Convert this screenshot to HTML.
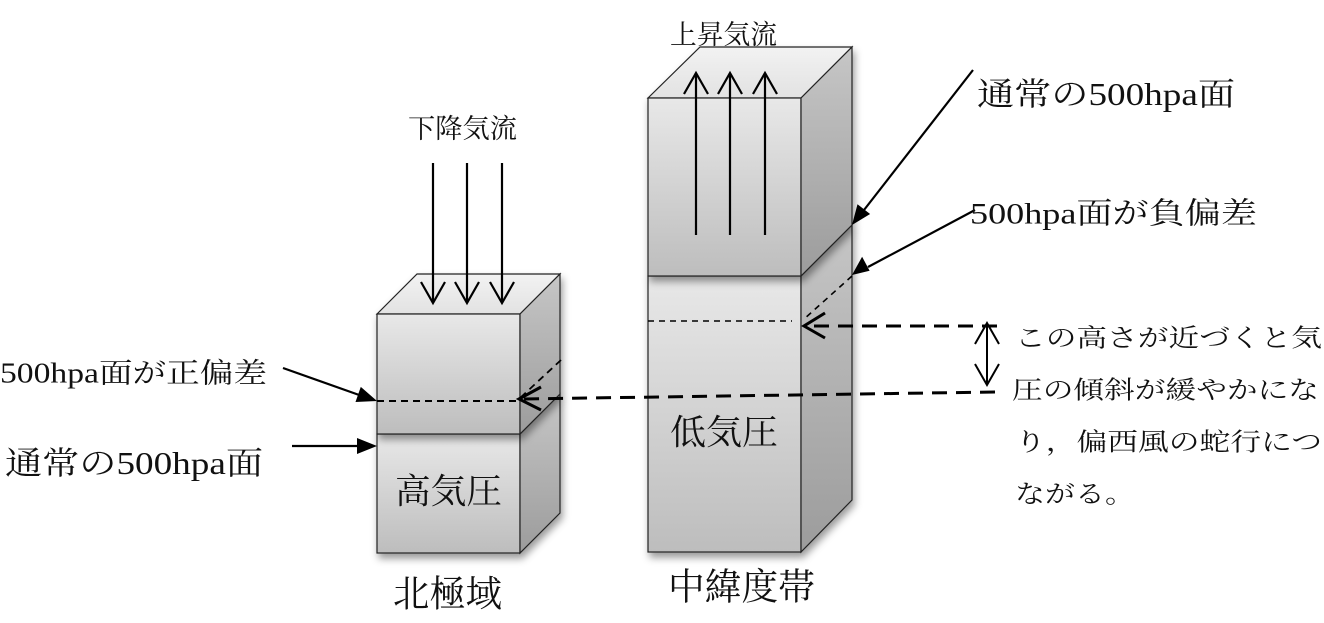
<!DOCTYPE html>
<html>
<head>
<meta charset="utf-8">
<style>
  html,body{margin:0;padding:0;background:#fff;}
  body{width:1324px;height:623px;overflow:hidden;}
  svg{display:block;}
  text{font-family:"Liberation Serif","Noto Serif CJK SC","Noto Serif CJK JP",serif;fill:#111;}
</style>
</head>
<body>
<svg width="1324" height="623" viewBox="0 0 1324 623" xmlns="http://www.w3.org/2000/svg">
  <defs>
    <linearGradient id="fg" x1="0" y1="0" x2="0" y2="1">
      <stop offset="0" stop-color="#e8e8e8"/>
      <stop offset="1" stop-color="#bdbdbd"/>
    </linearGradient>
    <linearGradient id="tg" x1="0" y1="0" x2="0" y2="1">
      <stop offset="0" stop-color="#f2f2f2"/>
      <stop offset="1" stop-color="#e2e2e2"/>
    </linearGradient>
    <linearGradient id="sg" x1="0" y1="0" x2="0" y2="1">
      <stop offset="0" stop-color="#c6c6c6"/>
      <stop offset="1" stop-color="#9c9c9c"/>
    </linearGradient>
    <filter id="sh" x="-20%" y="-20%" width="150%" height="150%">
      <feDropShadow dx="2" dy="5" stdDeviation="4" flood-color="#000" flood-opacity="0.4"/>
    </filter>
  </defs>

  <!-- Left cube (北極域) lower part -->
  <g filter="url(#sh)" stroke="#222" stroke-width="1.2">
    <rect x="377" y="434" width="143" height="119" fill="url(#fg)"/>
    <polygon points="520,434 560,394 560,513 520,553" fill="url(#sg)"/>
  </g>
  <!-- Left cube upper part -->
  <g filter="url(#sh)" stroke="#222" stroke-width="1.2">
    <polygon points="377,314 417,274 560,274 520,314" fill="url(#tg)"/>
    <rect x="377" y="314" width="143" height="120" fill="url(#fg)"/>
    <polygon points="520,314 560,274 560,394 520,434" fill="url(#sg)"/>
  </g>

  <!-- Right cube (中緯度帯) lower part -->
  <g filter="url(#sh)" stroke="#222" stroke-width="1.2">
    <rect x="648" y="276" width="153" height="276" fill="url(#fg)"/>
    <polygon points="801,276 852,225 852,500 801,552" fill="url(#sg)"/>
  </g>
  <!-- Right cube upper part -->
  <g filter="url(#sh)" stroke="#222" stroke-width="1.2">
    <polygon points="648,98 700,47 852,47 801,98" fill="url(#tg)"/>
    <rect x="648" y="98" width="153" height="178" fill="url(#fg)"/>
    <polygon points="801,98 852,47 852,225 801,276" fill="url(#sg)"/>
  </g>

  <!-- Down arrows (下降気流) -->
  <g stroke="#000" stroke-width="2.2" fill="none">
    <line x1="433" y1="163" x2="433" y2="303"/>
    <polyline points="421,282 433,303 445,282"/>
    <line x1="467" y1="163" x2="467" y2="303"/>
    <polyline points="455,282 467,303 479,282"/>
    <line x1="502" y1="163" x2="502" y2="303"/>
    <polyline points="490,282 502,303 514,282"/>
  </g>

  <!-- Up arrows (上昇気流) -->
  <g stroke="#000" stroke-width="2.2" fill="none">
    <line x1="696" y1="235" x2="696" y2="73"/>
    <polyline points="684,94 696,73 708,94"/>
    <line x1="730" y1="235" x2="730" y2="73"/>
    <polyline points="718,94 730,73 742,94"/>
    <line x1="765" y1="235" x2="765" y2="73"/>
    <polyline points="753,94 765,73 777,94"/>
  </g>

  <!-- Thin dashed lines inside cubes -->
  <line x1="377" y1="401" x2="519" y2="401" stroke="#000" stroke-width="2" stroke-dasharray="7,5"/>
  <line x1="648" y1="321" x2="792" y2="321" stroke="#000" stroke-width="1.6" stroke-dasharray="6,5"/>

  <!-- Thin dashed diagonals -->
  <line x1="561" y1="360" x2="519" y2="399" stroke="#000" stroke-width="1.8" stroke-dasharray="7,5"/>
  <line x1="852" y1="276" x2="803" y2="320" stroke="#000" stroke-width="1.6" stroke-dasharray="6,5"/>

  <!-- Thick dashed arrows -->
  <line x1="997" y1="326" x2="806" y2="326" stroke="#000" stroke-width="3" stroke-dasharray="15,9"/>
  <polyline points="825,313 804,326 825,338" stroke="#000" stroke-width="3" fill="none"/>
  <line x1="995" y1="392" x2="522" y2="399" stroke="#000" stroke-width="3" stroke-dasharray="15,9"/>
  <polyline points="541,387 519,399 541,410" stroke="#000" stroke-width="3" fill="none"/>

  <!-- Double arrow -->
  <g stroke="#000" stroke-width="2" fill="none">
    <line x1="987" y1="323" x2="987" y2="385"/>
    <polyline points="975,344 987,323 999,344"/>
    <polyline points="975,364 987,385 999,364"/>
  </g>

  <!-- Solid filled arrows -->
  <g stroke="#000" stroke-width="2.2">
    <line x1="283" y1="368" x2="362" y2="396"/>
    <line x1="292" y1="446" x2="360" y2="446"/>
    <line x1="973" y1="70" x2="864" y2="210"/>
    <line x1="975" y1="210" x2="868" y2="267"/>
  </g>
  <g fill="#000">
    <polygon points="377,401 355.5,402 360.8,386.9"/>
    <polygon points="377,446 357,438 357,454"/>
    <polygon points="852,225 857.5,204.2 870.1,214"/>
    <polygon points="852,275 862.1,256.7 869.6,270.8"/>
  </g>

  <!-- Labels -->
  <text x="408" y="129" font-size="27" dominant-baseline="central" textLength="109" lengthAdjust="spacingAndGlyphs">下降気流</text>
  <text x="670" y="35" font-size="27" dominant-baseline="central" textLength="107" lengthAdjust="spacingAndGlyphs">上昇気流</text>

  <text x="0" y="374" font-size="28" dominant-baseline="central" textLength="267" lengthAdjust="spacingAndGlyphs">500hpa面が正偏差</text>
  <text x="5" y="463" font-size="32" dominant-baseline="central" textLength="258" lengthAdjust="spacingAndGlyphs">通常の500hpa面</text>

  <text x="977" y="94" font-size="32" dominant-baseline="central" textLength="258" lengthAdjust="spacingAndGlyphs">通常の500hpa面</text>
  <text x="970" y="214" font-size="30" dominant-baseline="central" textLength="287" lengthAdjust="spacingAndGlyphs">500hpa面が負偏差</text>

  <text x="395" y="492" font-size="35" dominant-baseline="central" textLength="107" lengthAdjust="spacingAndGlyphs">高気圧</text>
  <text x="670" y="433" font-size="35" dominant-baseline="central" textLength="108" lengthAdjust="spacingAndGlyphs">低気圧</text>

  <text x="393" y="595" font-size="37" dominant-baseline="central" textLength="109" lengthAdjust="spacingAndGlyphs">北極域</text>
  <text x="668" y="588" font-size="37" dominant-baseline="central" textLength="147" lengthAdjust="spacingAndGlyphs">中緯度帯</text>

  <g font-size="25">
    <text x="1015" y="339" dominant-baseline="central" textLength="307" lengthAdjust="spacingAndGlyphs">この高さが近づくと気</text>
    <text x="1012" y="391" dominant-baseline="central" textLength="307" lengthAdjust="spacingAndGlyphs">圧の傾斜が緩やかにな</text>
    <text x="1015" y="443" dominant-baseline="central" textLength="307" lengthAdjust="spacingAndGlyphs">り，偏西風の蛇行につ</text>
    <text x="1015" y="495" dominant-baseline="central" textLength="120" lengthAdjust="spacingAndGlyphs">ながる。</text>
  </g>
</svg>
</body>
</html>
